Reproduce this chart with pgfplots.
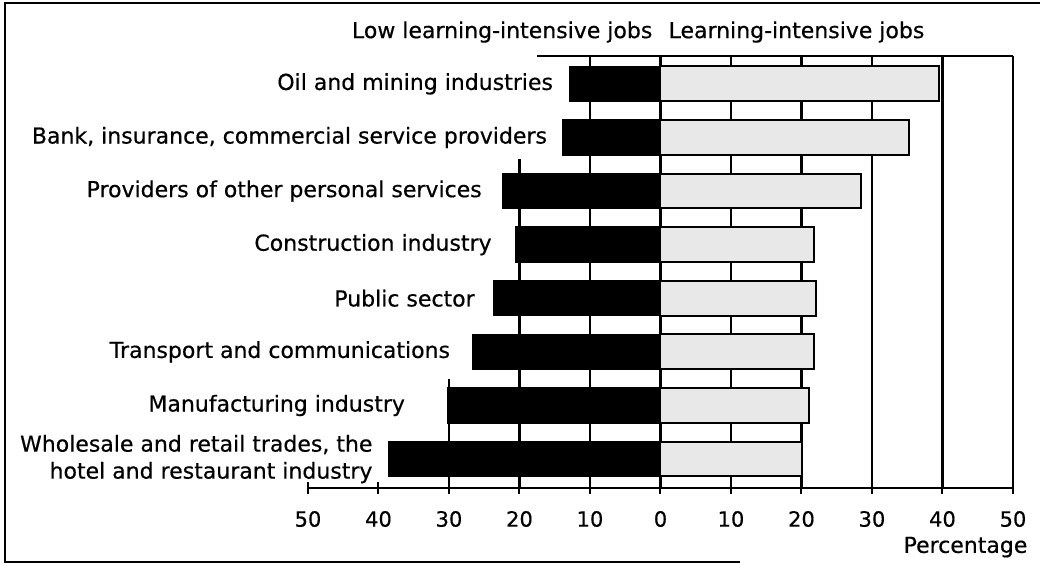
\documentclass[border=0pt]{standalone}
\usepackage{fontspec}
\setmainfont{DejaVu Sans}[FakeBold=0.5]
\usepackage{pgfplots}
\pgfplotsset{compat=1.18}
\begin{document}
\begin{tikzpicture}
\path[use as bounding box] (0pt,0pt) rectangle (520pt,282pt);
\draw[line width=0.9pt] (370pt,1pt) -- (2.5pt,1pt) -- (2.5pt,280.5pt) -- (520pt,280.5pt);
\begin{axis}[
  at={(154pt,38pt)}, anchor=south west,
  scale only axis, width=352.5pt, height=216pt,
  xmin=-50, xmax=50, ymin=-0.54, ymax=7.52,
  clip=false, axis on top=false,
  axis x line*=bottom, axis y line=none,
  axis line style={line width=1.1pt, black},
  xtick={-10,0,10,20,30,40,50},
  xticklabels={10,0,10,20,30,40,50},
  extra x ticks={-50,-40,-30,-20},
  extra x tick labels={50,40,30,20},
  extra x tick style={grid=none},
  xmajorgrids,
  grid style={black, line width=1.1pt},
  ytick=\empty,
  tick align=center, major tick length=6pt,
  tick style={black, line width=1pt},
  xticklabel style={font=\fontsize{10.5}{12}\selectfont, yshift=-5pt},
  /pgf/number format/assume math mode=true,
  gridline/.style={black, line width=1.1pt, forget plot},
]
% partial rules
\addplot[gridline] coordinates {(-17.5,7.52) (50,7.52)};
\addplot[gridline] coordinates {(-20,-0.54) (-20,5.6)};
\addplot[gridline] coordinates {(-30,-0.54) (-30,1.49)};
% low learning-intensive (left)
\addplot[xbar, bar width=0.65, bar shift=0pt, fill=black, draw=black, line width=0.8pt]
  coordinates {(-12.9,7) (-13.9,6) (-22.3,5) (-20.5,4) (-23.7,3) (-26.6,2) (-30.1,1) (-38.6,0)};
% learning-intensive (right)
\addplot[xbar, bar width=0.65, bar shift=0pt, fill=black!9, draw=black, line width=1pt]
  coordinates {(39.5,7) (35.3,6) (28.5,5) (21.8,4) (22.1,3) (21.8,2) (21.1,1) (20.1,0)};
% category labels
\addplot[only marks, mark=none, point meta=explicit symbolic, nodes near coords,
  nodes near coords style={anchor=east, align=right, inner sep=0pt, font=\fontsize{11}{13.5}\selectfont}]
  coordinates {
  (-15.2,7) [Oil and mining industries]
  (-16.05,6) [Bank, insurance, commercial service providers]
  (-25.3,5) [Providers of other personal services]
  (-23.9,4) [Construction industry]
  (-26.3,3) [Public sector]
  (-29.8,2) [Transport and communications]
  (-36.2,1) [Manufacturing industry]
  (-40.8,0) [{Wholesale and retail trades, the\\hotel and restaurant industry}]
  };
\node[anchor=base east, inner sep=0pt, font=\fontsize{11}{13}\selectfont] at (axis cs:-1.1,7.854) {Low learning-intensive jobs};
\node[anchor=base west, inner sep=0pt, font=\fontsize{11}{13}\selectfont] at (axis cs:1.1,7.854) {Learning-intensive jobs};
\node[anchor=base east, inner sep=0pt, font=\fontsize{11}{13}\selectfont] at (axis cs:52.1,-1.75) {Percentage};
\end{axis}
\end{tikzpicture}
\end{document}
